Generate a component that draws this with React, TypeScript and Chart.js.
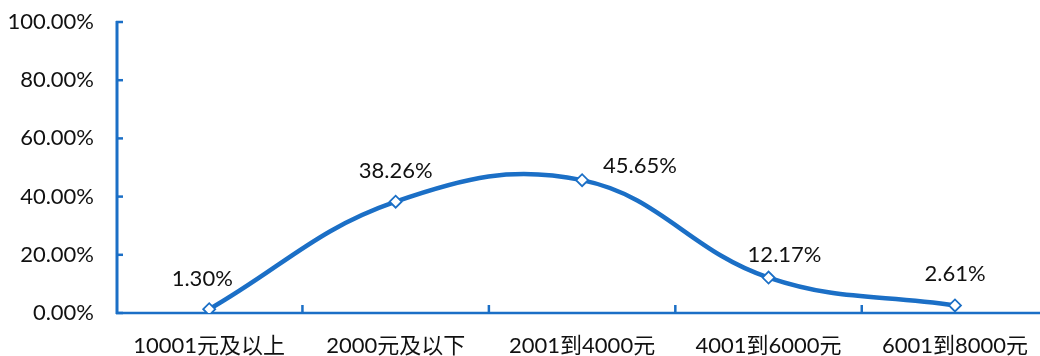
import React, { useEffect, useRef } from "react";
import { Chart, registerables } from "chart.js";

Chart.register(...registerables);

const categories = ["10001元及以上", "2000元及以下", "2001到4000元", "4001到6000元", "6001到8000元"];
const shares = [1.3, 38.26, 45.65, 12.17, 2.61];
const labelPlacement = ["aboveLeft", "above", "right", "aboveRight", "above"];
const yTicks = [0, 20, 40, 60, 80, 100];

const BLUE = "#1b6fc6";
const FONT = "Lato, 'Noto Sans CJK SC', sans-serif";

const placementOffsets: Record<string, [number, number, CanvasTextAlign]> = {
  above: [0, -31, "center"],
  aboveLeft: [-7, -30, "center"],
  aboveRight: [16, -23, "center"],
  right: [21, -14, "left"],
};

const axesPlugin = {
  id: "customAxes",
  beforeDatasetsDraw(chart: any) {
    const { ctx, chartArea, scales } = chart;
    const x = scales.x;
    const y = scales.y;
    ctx.save();
    ctx.strokeStyle = BLUE;
    ctx.lineCap = "butt";
    ctx.lineWidth = 3;
    ctx.beginPath();
    ctx.moveTo(chartArea.left + 1, y.getPixelForValue(100) - 1);
    ctx.lineTo(chartArea.left + 1, y.getPixelForValue(0) + 1);
    ctx.stroke();
    ctx.lineWidth = 2.5;
    yTicks.forEach((v) => {
      const py = y.getPixelForValue(v);
      ctx.beginPath();
      ctx.moveTo(chartArea.left, py);
      ctx.lineTo(chartArea.left + 7, py);
      ctx.stroke();
    });
    const py0 = y.getPixelForValue(0);
    ctx.lineWidth = 2.5;
    ctx.beginPath();
    ctx.moveTo(chartArea.left, py0);
    ctx.lineTo(chartArea.right + 10, py0);
    ctx.stroke();
    for (let i = 0; i < categories.length - 1; i++) {
      const px = (x.getPixelForValue(i) + x.getPixelForValue(i + 1)) / 2;
      ctx.beginPath();
      ctx.moveTo(px, py0);
      ctx.lineTo(px, py0 - 8);
      ctx.stroke();
    }
    ctx.restore();
  },
};

const labelPlugin = {
  id: "pointLabels",
  afterDatasetsDraw(chart: any) {
    const { ctx } = chart;
    const meta = chart.getDatasetMeta(0);
    ctx.save();
    ctx.font = `22px ${FONT}`;
    ctx.fillStyle = "#111";
    ctx.textBaseline = "middle";
    meta.data.forEach((pt: any, i: number) => {
      const text = shares[i].toFixed(2) + "%";
      const [dx, dy, align] = placementOffsets[labelPlacement[i]];
      ctx.textAlign = align;
      ctx.fillText(text, pt.x + dx, pt.y + dy);
    });
    ctx.restore();
  },
};

export default function App() {
  const ref = useRef<HTMLCanvasElement>(null);
  useEffect(() => {
    if (!ref.current) return;
    const chart = new Chart(ref.current, {
      type: "line",
      data: {
        labels: categories,
        datasets: [
          {
            data: shares,
            borderColor: BLUE,
            borderWidth: 4.5,
            tension: 0.4,
            pointStyle: "rectRot",
            pointRadius: 6,
            pointBorderWidth: 1.8,
            pointBackgroundColor: "#ffffff",
            pointBorderColor: BLUE,
            fill: false,
          },
        ],
      },
      options: {
        responsive: false,
        animation: false,
        layout: { padding: { top: 22, right: 0, left: 0, bottom: 0 } },
        plugins: { legend: { display: false }, tooltip: { enabled: false } },
        scales: {
          x: {
            offset: true,
            grid: { display: false },
            border: { display: false },
            ticks: { font: { family: FONT, size: 22 }, color: "#111", padding: 12, maxRotation: 0, autoSkip: false },
            afterFit: (s: any) => {
              s.height = 43;
              s.paddingLeft = 0;
              s.paddingRight = 0;
            },
          },
          y: {
            min: 0,
            max: 100,
            grid: { display: false },
            border: { display: false },
            ticks: {
              stepSize: 20,
              padding: 14,
              color: "#111",
              font: { family: FONT, size: 22 },
              callback: (v: any) => Number(v).toFixed(2) + "%",
            },
            afterFit: (s: any) => {
              s.width = 116;
              s.paddingTop = 0;
              s.paddingBottom = 0;
            },
          },
        },
      },
      plugins: [axesPlugin, labelPlugin],
    });
    return () => chart.destroy();
  }, []);
  return (
    <div style={{ position: "fixed", left: 0, top: 0, width: 1056, height: 356, background: "#fff" }}>
      <canvas ref={ref} width={1056} height={356} style={{ display: "block" }} />
    </div>
  );
}
